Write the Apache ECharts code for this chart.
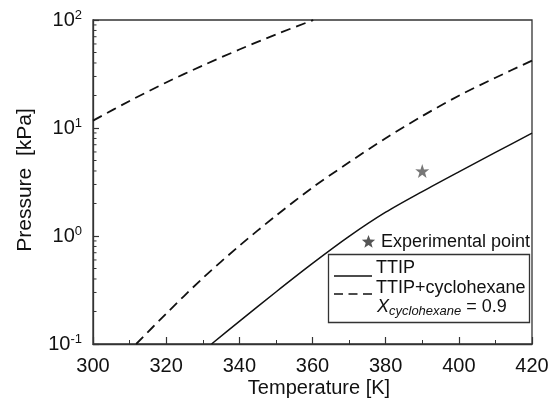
<!DOCTYPE html>
<html>
<head>
<meta charset="utf-8">
<script src="https://cdn.jsdelivr.net/npm/echarts@6/dist/echarts.min.js"></script>
<style>html,body{margin:0;padding:0;background:#fff}#c{width:559px;height:398px}</style>
</head>
<body>
<div id="c"></div>
<script>
// ---- data ----
const tempTTIP = [332.4, 340, 350, 360, 370, 380, 390, 400, 410, 420];
const presTTIP = [0.1, 0.162, 0.303, 0.557, 0.991, 1.66, 2.58, 3.93, 5.94, 8.95];

const tempMix = [311.8, 320, 330, 340, 350, 360, 370, 380, 390, 400, 410, 420];
const presMix = [0.1, 0.191, 0.407, 0.811, 1.54, 2.81, 4.81, 8.04, 12.9, 19.9, 29.2, 42.1];

const tempUpper = [300, 310, 320, 330, 340, 350, 360, 360.2];
const presUpper = [11.7, 17.8, 26.4, 37.9, 53.3, 73.5, 99.3, 100];

const expTemp = [390];
const expPres = [4.0];

const yDecades = [0.1, 1, 10, 100];
const yExponents = ['-1', '0', '1', '2'];
const minorMultipliers = [2, 3, 4, 5, 6, 7, 8, 9];

const FONT = 'Liberation Sans, Arial, sans-serif';
const zip = (a, b) => a.map((v, i) => [v, b[i]]);

const minorY = [];
yDecades.slice(0, 3).forEach(d => minorMultipliers.forEach(m => minorY.push([300, +(d * m).toPrecision(3)])));

const STAR = 'path://M50,0 L61.8,35.1 L97.6,34.5 L69.1,56.7 L79.4,90.5 L50,70 L20.6,90.5 L30.9,56.7 L2.4,34.5 L38.2,35.1 Z';
function starPoints(cx, cy, r) {
  const pts = [];
  for (let k = 0; k < 10; k++) {
    const a = -Math.PI / 2 + k * Math.PI / 5;
    const rr = k % 2 === 0 ? r : r * 0.42;
    pts.push([cx + rr * Math.cos(a), cy + rr * Math.sin(a)]);
  }
  return pts;
}

const chart = echarts.init(document.getElementById('c'), null, {renderer: 'canvas'});
chart.setOption({
  animation: false,
  backgroundColor: '#fff',
  grid: {left: 93, right: 27, top: 20, bottom: 54, show: true, borderColor: '#333', borderWidth: 1.3, backgroundColor: 'transparent'},
  xAxis: {
    type: 'value', min: 300, max: 420, interval: 20,
    axisLine: {lineStyle: {color: '#333', width: 1.3}},
    axisTick: {inside: true, length: 7, lineStyle: {color: '#333', width: 1.2}},
    minorTick: {show: true, splitNumber: 2, length: 4, lineStyle: {color: '#333', width: 1}},
    splitLine: {show: false},
    axisLabel: {color: '#111', fontSize: 20, fontFamily: FONT, margin: 12}
  },
  yAxis: {
    type: 'log', min: 0.1, max: 100, logBase: 10,
    axisLine: {lineStyle: {color: '#333', width: 1.3}},
    axisTick: {inside: true, length: 6, lineStyle: {color: '#333', width: 1.2}},
    splitLine: {show: false},
    axisLabel: {
      margin: 11, color: '#111', fontFamily: FONT,
      formatter: v => {
        const i = yDecades.findIndex(d => Math.abs(d - v) / d < 1e-6);
        return i < 0 ? '' : '{b|10}{s|' + yExponents[i] + '}';
      },
      rich: {
        b: {fontSize: 20, fontFamily: FONT, color: '#111', lineHeight: 22},
        s: {fontSize: 13, fontFamily: FONT, color: '#111', padding: [0, 0, 9, 0], lineHeight: 22}
      }
    }
  },
  series: [
    {type: 'line', data: zip(tempTTIP, presTTIP), smooth: 0.3, showSymbol: false,
     lineStyle: {color: '#111', width: 1.5, type: 'solid'}},
    {type: 'line', data: zip(tempMix, presMix), smooth: 0.3, showSymbol: false,
     lineStyle: {color: '#111', width: 1.8, type: [10, 6]}},
    {type: 'line', data: zip(tempUpper, presUpper), smooth: 0.3, showSymbol: false,
     lineStyle: {color: '#111', width: 1.8, type: [10, 6]}},
    {type: 'scatter', data: zip(expTemp, expPres), symbol: STAR,
     symbolSize: 14, itemStyle: {color: '#555'}},
    {type: 'custom', data: minorY, clip: false, silent: true,
     renderItem: (params, api) => {
       const p = api.coord([api.value(0), api.value(1)]);
       return {type: 'line', shape: {x1: p[0], y1: p[1], x2: p[0] + 3.5, y2: p[1]}, style: {stroke: '#333', lineWidth: 1}};
     }}
  ],
  graphic: [
    {type: 'text', x: 25, y: 180, rotation: Math.PI / 2,
     style: {text: 'Pressure  [kPa]', font: '21px ' + FONT, fill: '#111', align: 'center', verticalAlign: 'middle'}},
    {type: 'text', x: 319, y: 388,
     style: {text: 'Temperature [K]', font: '20px ' + FONT, fill: '#111', align: 'center', verticalAlign: 'middle'}},
    {type: 'polygon', shape: {points: starPoints(368.5, 242, 7)}, style: {fill: '#555'}},
    {type: 'text', x: 381, y: 242,
     style: {text: 'Experimental point', font: '18px ' + FONT, fill: '#111', align: 'left', verticalAlign: 'middle'}},
    {type: 'rect', shape: {x: 328.5, y: 254.5, width: 201, height: 68},
     style: {fill: 'transparent', stroke: '#333', lineWidth: 1.3}},
    {type: 'line', shape: {x1: 334, y1: 276, x2: 372, y2: 276}, style: {stroke: '#111', lineWidth: 1.6}},
    {type: 'line', shape: {x1: 334, y1: 294, x2: 372, y2: 294}, style: {stroke: '#111', lineWidth: 1.6, lineDash: [9, 5.5]}},
    {type: 'text', x: 376, y: 268,
     style: {text: 'TTIP', font: '18px ' + FONT, fill: '#111', align: 'left', verticalAlign: 'middle'}},
    {type: 'text', x: 376, y: 288,
     style: {text: 'TTIP+cyclohexane', font: '18px ' + FONT, fill: '#111', align: 'left', verticalAlign: 'middle'}},
    {type: 'text', x: 377, y: 307,
     style: {text: '{i|X}{sub|cyclohexane}{n| = 0.9}', align: 'left', verticalAlign: 'middle',
       rich: {
         i: {fontSize: 18, fontStyle: 'italic', fontFamily: FONT, fill: '#111', lineHeight: 22},
         sub: {fontSize: 13, fontStyle: 'italic', fontFamily: FONT, fill: '#111', padding: [9, 0, 0, 0], lineHeight: 22},
         n: {fontSize: 18, fontFamily: FONT, fill: '#111', lineHeight: 22}
       }}}
  ]
});
</script>
</body>
</html>
